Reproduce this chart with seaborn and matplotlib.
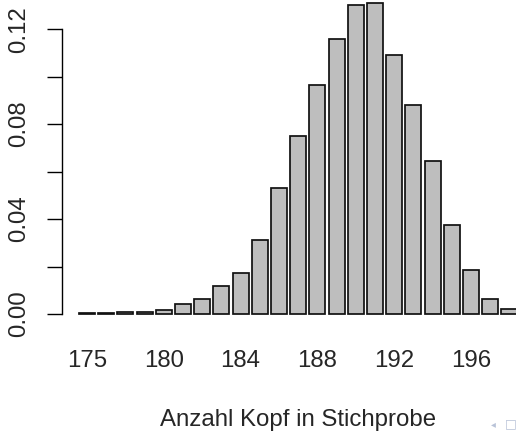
import numpy as np
import pandas as pd
import matplotlib
matplotlib.use("Agg")
import matplotlib.pyplot as plt
import seaborn as sns

# Data
kopf = [175, 177, 178, 179] + list(range(180, 199))
prob = [0.0003, 0.0003, 0.0007, 0.0010, 0.0015, 0.0041, 0.0062, 0.0117,
        0.0174, 0.0312, 0.0529, 0.0749, 0.0963, 0.1158, 0.1304, 0.1309,
        0.1093, 0.0881, 0.0646, 0.0373, 0.0185, 0.0063, 0.0022]
xtick_idx = [0, 4, 8, 12, 16, 20]
ytick_vals = [0.00, 0.02, 0.04, 0.06, 0.08, 0.10, 0.12]
ytick_labels = ["0.00", "", "0.04", "", "0.08", "", "0.12"]
xlabel = "Anzahl Kopf in Stichprobe"

sns.set_style("white")
plt.rcParams["font.family"] = ["Liberation Sans", "DejaVu Sans"]

FS = 17.3
fig = plt.figure(figsize=(5.16, 4.32), dpi=100)
ax = fig.add_axes([0.1196, 0.2369, 0.917, 0.7849])

names = [str(k) for k in kopf]
df = pd.DataFrame({"kopf": names, "p": prob})
sns.barplot(data=df, x="kopf", y="p", order=names, color="#bebebe",
            saturation=1, edgecolor="#111111", linewidth=1.25, width=0.833,
            ax=ax)

ax.set_xlim(-1.318, 23.33)
ax.set_ylim(-0.0066, 0.1363)

for s in ["top", "right", "bottom"]:
    ax.spines[s].set_visible(False)
ax.spines["left"].set_bounds(0, 0.12)
ax.spines["left"].set_linewidth(1.0)
ax.spines["left"].set_color("black")

ax.set_yticks(ytick_vals)
ax.set_yticklabels(ytick_labels)
ax.tick_params(axis="y", length=10.8, width=1.0, pad=12, labelsize=FS,
               color="black", left=True)
for lab in ax.get_yticklabels():
    lab.set_rotation(90)
    lab.set_va("center")
    lab.set_ha("right")

ax.set_xticks(xtick_idx)
ax.set_xticklabels([names[i] for i in xtick_idx])
ax.tick_params(axis="x", length=0, pad=15, labelsize=FS)
ax.set_xlabel("")
ax.set_ylabel("")

fig.text(298 / 516, (432 - 426) / 432, xlabel, ha="center", va="baseline",
         fontsize=FS)

# beamer navigation symbols
fig.text(493 / 516, (432 - 424) / 432, "\u25c2", ha="center", va="center",
         fontsize=7, color="#b9c3d8", family=["DejaVu Sans"])
fig.text(511 / 516, (432 - 424) / 432, "\u25a1", ha="center", va="center",
         fontsize=9, color="#b9c3d8", family=["DejaVu Sans"])

fig.savefig("out.png", dpi=100)
